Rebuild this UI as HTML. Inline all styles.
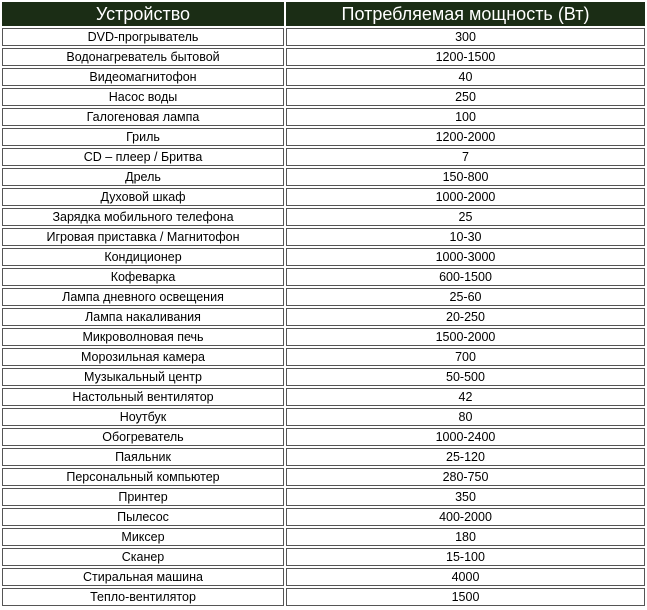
<!DOCTYPE html>
<html><head><meta charset="utf-8"><style>
body{margin:0;background:#fff;width:647px;height:610px;overflow:hidden;font-family:"Liberation Sans",Arial,sans-serif}
.h{position:absolute;top:2px;height:24px;background:#1b2d15;color:#fff;font-size:18px;line-height:24px;text-align:center}
.c{position:absolute;height:16px;border:1px solid #555;box-sizing:content-box;font-size:12.5px;line-height:16px;text-align:center;color:#000}
</style></head><body>
<div class="h" style="left:2px;width:282px">Устройство</div>
<div class="h" style="left:286px;width:359px">Потребляемая мощность (Вт)</div>
<div id="t"></div>
<script>
var d=[["DVD-прогрыватель","300"],["Водонагреватель бытовой","1200-1500"],["Видеомагнитофон","40"],["Насос воды","250"],["Галогеновая лампа","100"],["Гриль","1200-2000"],["CD – плеер / Бритва","7"],["Дрель","150-800"],["Духовой шкаф","1000-2000"],["Зарядка мобильного телефона","25"],["Игровая приставка / Магнитофон","10-30"],["Кондиционер","1000-3000"],["Кофеварка","600-1500"],["Лампа дневного освещения","25-60"],["Лампа накаливания","20-250"],["Микроволновая печь","1500-2000"],["Морозильная камера","700"],["Музыкальный центр","50-500"],["Настольный вентилятор","42"],["Ноутбук","80"],["Обогреватель","1000-2400"],["Паяльник","25-120"],["Персональный компьютер","280-750"],["Принтер","350"],["Пылесос","400-2000"],["Миксер","180"],["Сканер","15-100"],["Стиральная машина","4000"],["Тепло-вентилятор","1500"]];
var h="";for(var i=0;i<d.length;i++){var y=28+20*i;
h+='<div class="c" style="top:'+y+'px;left:2px;width:280px">'+d[i][0]+'</div>';
h+='<div class="c" style="top:'+y+'px;left:286px;width:357px">'+d[i][1]+'</div>';}
document.getElementById("t").innerHTML=h;
</script>
</body></html>
